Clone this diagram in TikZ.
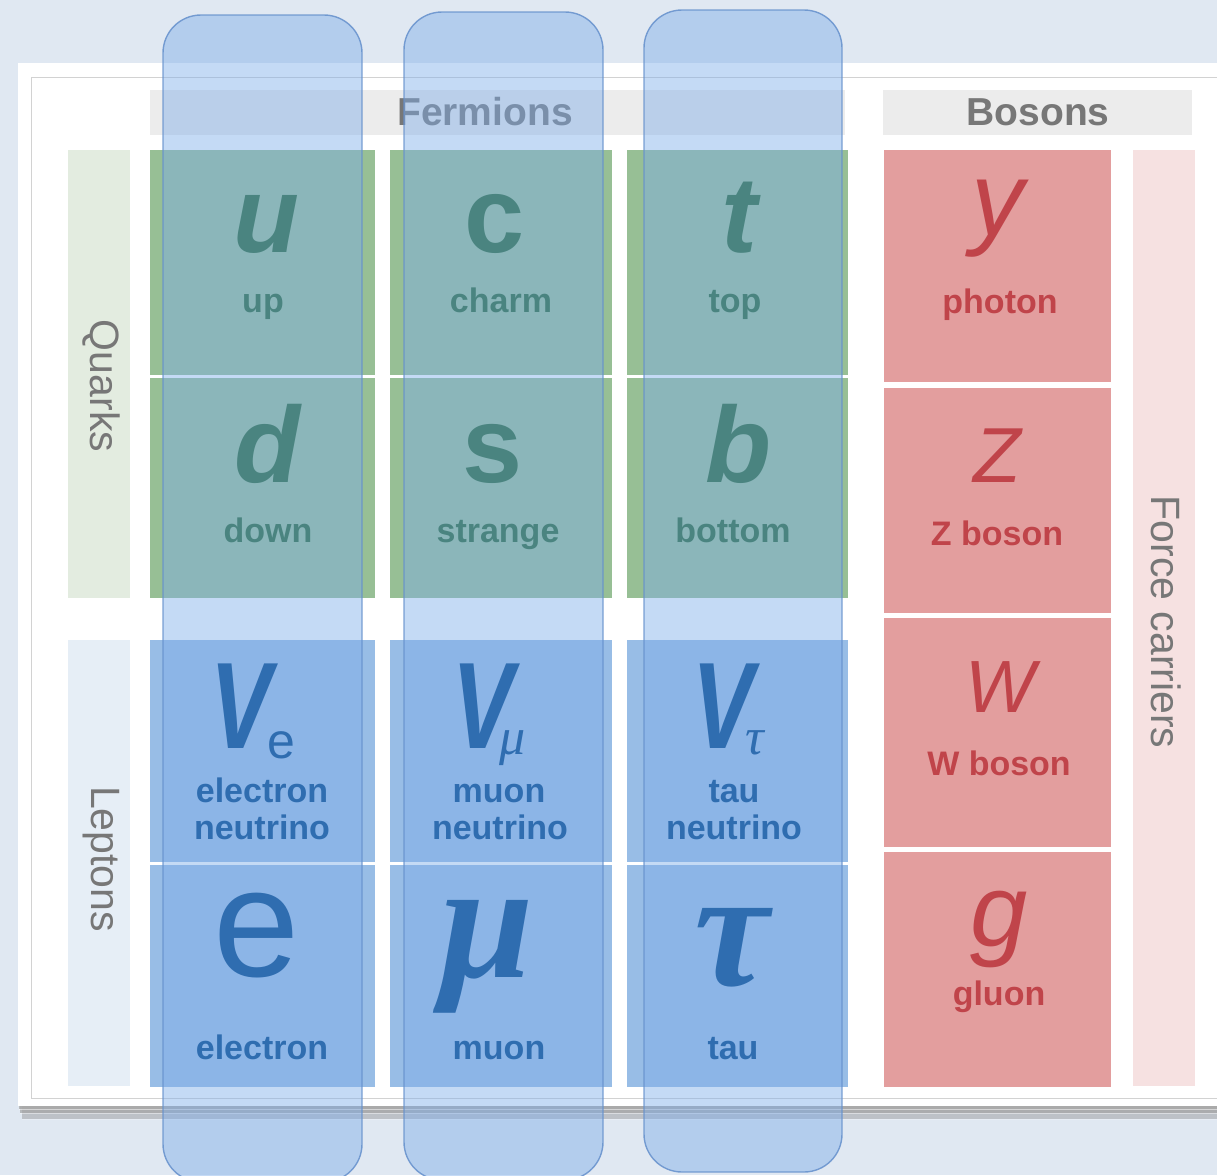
\documentclass[tikz,border=0pt]{standalone}
\usepackage{fontspec}
\usepackage{graphicx}
\setmainfont{Liberation Sans}
\newfontfamily\grkfont{Liberation Serif}

\definecolor{bgblue}{HTML}{E0E8F2}
\definecolor{shade}{HTML}{9C9C9C}
\definecolor{framegray}{HTML}{D2D2D2}
\definecolor{hdrgray}{HTML}{ECECEC}
\definecolor{hdrtext}{HTML}{777777}
\definecolor{qbar}{HTML}{E3ECE0}
\definecolor{lbar}{HTML}{E6EEF6}
\definecolor{qcell}{HTML}{97BF95}
\definecolor{lcell}{HTML}{98BDE6}
\definecolor{bcell}{HTML}{E39E9E}
\definecolor{fbar}{HTML}{F6E1E1}
\definecolor{ovfill}{HTML}{7EADE9}
\definecolor{ovline}{HTML}{6590CC}
\definecolor{qtext}{HTML}{4A8480}
\definecolor{ltext}{HTML}{2F6DB0}
\definecolor{btext}{HTML}{C0444A}

% a filled box given by its two corners
\newcommand\boxat[6]{%
  \node[#2, minimum width={#5-#3}, minimum height={#6-#4}] (#1) at ({(#3+#5)/2},{(#4+#6)/2}) {};}
\newcommand\fsz[1]{\fontsize{#1}{#1}\selectfont}
% neutrino symbol: narrow bold italic V followed by a lowered index
\newcommand\nuidx[4]{{\fsz{123}\bfseries\itshape\scalebox{0.75}[1]{V}}\hspace{#1pt}\raisebox{-#2pt}{\fsz{#4}#3}}

\begin{document}
\begin{tikzpicture}[x=1pt,y=-1pt,
  tile/.style={draw=none, inner sep=0pt, outer sep=0pt, rectangle},
  column/.style={tile, rounded corners=38pt, fill=ovfill, fill opacity=0.45,
                 draw=ovline, draw opacity=0.85, line width=1.4pt},
  hdr/.style={anchor=base, inner sep=0pt, text=hdrtext, font=\fsz{39}\bfseries},
  side/.style={inner sep=0pt, text=hdrtext, font=\fsz{41}, rotate=-90},
  qsym/.style={anchor=base, inner sep=0pt, text=qtext, font=\fsz{108}\bfseries},
  qlbl/.style={anchor=base, inner sep=0pt, text=qtext, font=\fsz{34}\bfseries},
  lsym/.style={anchor=base, inner sep=0pt, text=ltext},
  nusty/.style={anchor=base west, inner sep=0pt, text=ltext},
  llbl/.style={anchor=base, inner sep=0pt, text=ltext, font=\fsz{34}\bfseries},
  bsym/.style={anchor=base, inner sep=0pt, text=btext, font=\itshape},
  blbl/.style={anchor=base, inner sep=0pt, text=btext, font=\fsz{34}\bfseries}]

\useasboundingbox (0,0) rectangle (1217,1175);
\fill[bgblue] (0,0) rectangle (1217,1175);

% card with its shadow and inner frame
\fill[shade, opacity=0.25] (22,75) rectangle (1240,1119);
\fill[shade, opacity=0.45] (20,70) rectangle (1240,1113);
\fill[shade, opacity=0.5] (19,66) rectangle (1240,1109);
\boxat{card}{tile, fill=white}{18}{63}{1240}{1106}
\draw[framegray, line width=0.8pt] (1240,77) -- (31,77) -- (31,1098) -- (1240,1098);

% headers
\boxat{fermhdr}{tile, fill=hdrgray}{150}{90}{845}{135}
\boxat{boshdr}{tile, fill=hdrgray}{883}{90}{1192}{135}
\node[hdr] (fermtxt) at (485,125) {Fermions};
\node[hdr] (bostxt) at (1038,125) {Bosons};

% side bars
\boxat{qkbar}{tile, fill=qbar}{68}{150}{130}{598}
\boxat{lpbar}{tile, fill=lbar}{68}{640}{130}{1086}
\boxat{fcbar}{tile, fill=fbar}{1133}{150}{1195}{1086}
\node[side] (qktxt) at (101,386) {Quarks};
\node[side] (lptxt) at (101,859) {Leptons};
\node[side] (fctxt) at (1166,622) {Force carriers};

% quark tiles
\boxat{cu}{tile, fill=qcell}{150}{150}{375}{375}
\boxat{cc}{tile, fill=qcell}{390}{150}{612}{375}
\boxat{ct}{tile, fill=qcell}{627}{150}{848}{375}
\boxat{cd}{tile, fill=qcell}{150}{378}{375}{598}
\boxat{cs}{tile, fill=qcell}{390}{378}{612}{598}
\boxat{cb}{tile, fill=qcell}{627}{378}{848}{598}

% lepton tiles
\boxat{cne}{tile, fill=lcell}{150}{640}{375}{862}
\boxat{cnm}{tile, fill=lcell}{390}{640}{612}{862}
\boxat{cnt}{tile, fill=lcell}{627}{640}{848}{862}
\boxat{ce}{tile, fill=lcell}{150}{865}{375}{1087}
\boxat{cm}{tile, fill=lcell}{390}{865}{612}{1087}
\boxat{ctau}{tile, fill=lcell}{627}{865}{848}{1087}

% boson tiles
\boxat{cgam}{tile, fill=bcell}{884}{150}{1111}{382}
\boxat{cz}{tile, fill=bcell}{884}{388}{1111}{613}
\boxat{cw}{tile, fill=bcell}{884}{618}{1111}{847}
\boxat{cg}{tile, fill=bcell}{884}{852}{1111}{1087}

% translucent generation columns
\boxat{gen1}{column}{163}{15}{362}{1182}
\boxat{gen2}{column}{404}{12}{603}{1180}
\boxat{gen3}{column}{644}{10}{842}{1172}

% quark symbols and names
\node[qsym] (su) at (266,252) {\itshape u};
\node[qsym] (sc) at (495,252) {c};
\node[qsym] (st) at (739,252) {\itshape t};
\node[qsym] (sd) at (267,482) {\itshape d};
\node[qsym] (ss) at (493,482) {s};
\node[qsym] (sb) at (738,482) {\itshape b};
\node[qlbl] (lu) at (263,312) {up};
\node[qlbl] (lc) at (501,312) {charm};
\node[qlbl] (lt) at (735,312) {top};
\node[qlbl] (ld) at (268,542) {down};
\node[qlbl] (ls) at (498,542) {strange};
\node[qlbl] (lb) at (733,542) {bottom};

% neutrinos
\node[nusty] (sve) at (210,748) {\nuidx{-4}{10}{e}{50}};
\node[nusty] (svm) at (452,748) {\nuidx{-14}{6}{\grkfont\itshape μ}{52}};
\node[nusty] (svt) at (692,748) {\nuidx{-8}{6}{\grkfont\itshape τ}{52}};
\node[llbl] (lne) at (262,802) {electron};
\node[llbl] (lne2) at (262,839) {neutrino};
\node[llbl] (lnm) at (499,802) {muon};
\node[llbl] (lnm2) at (500,839) {neutrino};
\node[llbl] (lnt) at (734,802) {tau};
\node[llbl] (lnt2) at (734,839) {neutrino};

% charged leptons
\node[lsym, font=\fsz{155}] (se) at (257,976) {e};
\node[lsym, font=\grkfont\fsz{168}\bfseries\itshape] (sm) at (487,977) {μ};
\node[lsym, font=\grkfont\fsz{168}\bfseries\itshape] (stau) at (732,985) {τ};
\node[llbl] (le) at (262,1059) {electron};
\node[llbl] (lm) at (499,1059) {muon};
\node[llbl] (ltau) at (733,1059) {tau};

% bosons
\node[bsym, font=\itshape\fsz{105}] (sgam) at (998,235) {y};
\node[bsym, font=\itshape\fsz{78}] (sz) at (997,482) {Z};
\node[bsym, font=\itshape\fsz{74}] (sw) at (1000,712) {W};
\node[bsym, font=\itshape\fsz{103}] (sg) at (999,946) {g};
\node[blbl] (lgam) at (1000,313) {photon};
\node[blbl] (lz) at (997,545) {Z boson};
\node[blbl] (lw) at (999,775) {W boson};
\node[blbl] (lg) at (999,1005) {gluon};

\end{tikzpicture}
\end{document}
